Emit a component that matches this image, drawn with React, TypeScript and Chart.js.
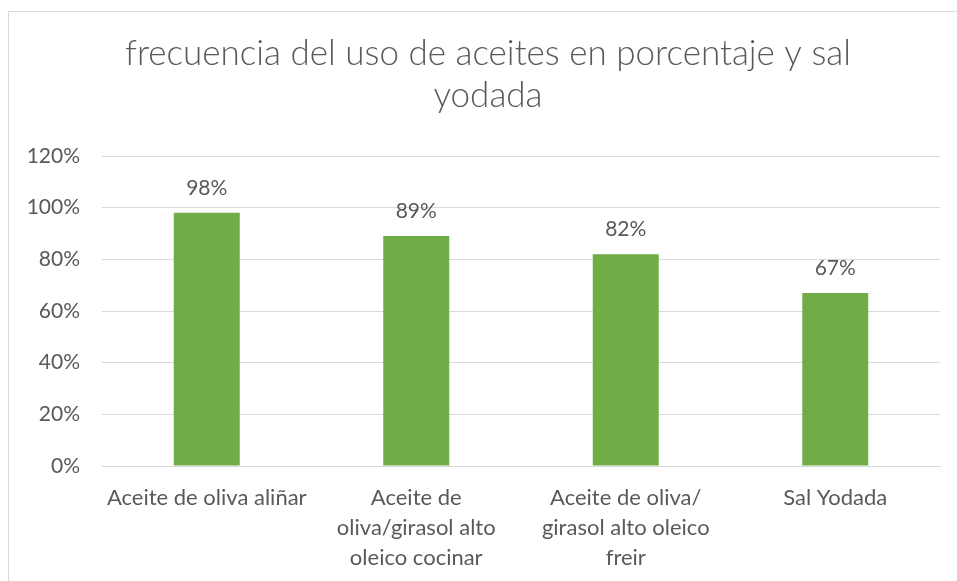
import React, { useEffect, useRef } from "react";
import { Chart, registerables } from "chart.js";

Chart.register(...registerables);

const titleLines = ["frecuencia del uso de aceites en porcentaje y sal", "yodada"];
const categories: string[][] = [
  ["Aceite de oliva aliñar"],
  ["Aceite de", "oliva/girasol alto", "oleico cocinar"],
  ["Aceite de oliva/", "girasol alto oleico", "freir"],
  ["Sal Yodada"],
];
const values = [98, 89, 82, 67];
const yMin = 0;
const yMax = 120;
const yStep = 20;

const TEXT = "#595959";
const GRID = "#D9D9D9";
const BAR = "#70AD47";
const FONT = "Lato";

const frame = {
  id: "frame",
  beforeDraw(chart: any) {
    const ctx = chart.ctx;
    ctx.save();
    ctx.fillStyle = "#ffffff";
    ctx.fillRect(0, 0, chart.width, chart.height);
    ctx.strokeStyle = GRID;
    ctx.lineWidth = 1;
    ctx.strokeRect(8.5, 11.5, chart.width + 20, chart.height + 20);
    ctx.restore();
  },
};

// Center the title on the whole chart frame (which runs past the right edge)
const titleShift = {
  id: "titleShift",
  afterLayout(chart: any) {
    const tb = chart.titleBlock;
    if (tb) {
      tb.left = 36;
      tb.right = 940;
      tb.width = tb.right - tb.left;
    }
  },
};

const valueLabels = {
  id: "valueLabels",
  afterDatasetsDraw(chart: any) {
    const ctx = chart.ctx;
    ctx.save();
    ctx.font = `21px ${FONT}`;
    ctx.fillStyle = TEXT;
    ctx.textAlign = "center";
    ctx.textBaseline = "middle";
    chart.getDatasetMeta(0).data.forEach((el: any, i: number) => {
      ctx.fillText(values[i] + "%", el.x, el.y - 25);
    });
    ctx.restore();
  },
};

export default function App() {
  const ref = useRef<HTMLCanvasElement>(null);
  useEffect(() => {
    if (!ref.current) return;
    const chart = new Chart(ref.current, {
      type: "bar",
      data: {
        labels: categories,
        datasets: [
          {
            data: values,
            backgroundColor: BAR,
            borderWidth: 0,
            categoryPercentage: 1,
            barPercentage: 0.315,
          },
        ],
      },
      options: {
        animation: false,
        responsive: false,
        devicePixelRatio: 1,
        layout: { padding: { left: 8, right: 17, top: 0, bottom: 0 } },
        plugins: {
          legend: { display: false },
          tooltip: { enabled: false },
          title: {
            display: true,
            text: titleLines,
            color: TEXT,
            font: { family: FONT, size: 35, weight: "300", lineHeight: 1.2 },
            padding: { top: 32.7, bottom: 39.3 },
          },
        },
        scales: {
          x: {
            grid: { display: false, drawTicks: false },
            border: { display: true, color: GRID, width: 1 },
            ticks: {
              color: TEXT,
              font: { family: FONT, size: 22, lineHeight: 1.364 },
              padding: 17,
              maxRotation: 0,
              autoSkip: false,
            },
            afterFit(scale: any) {
              scale.height = 115;
            },
          },
          y: {
            min: yMin,
            max: yMax,
            grid: { color: GRID, drawTicks: false },
            border: { display: false },
            ticks: {
              stepSize: yStep,
              color: TEXT,
              padding: 22,
              font: { family: FONT, size: 21 },
              callback: (v: any) => v + "%",
            },
            afterFit(scale: any) {
              scale.width = 94;
            },
          },
        },
      },
      plugins: [frame, titleShift, valueLabels],
    });
    return () => chart.destroy();
  }, []);
  return (
    <div style={{ position: "fixed", left: 0, top: 0, width: 957, height: 581 }}>
      <canvas ref={ref} width={957} height={581} style={{ display: "block" }} />
    </div>
  );
}
